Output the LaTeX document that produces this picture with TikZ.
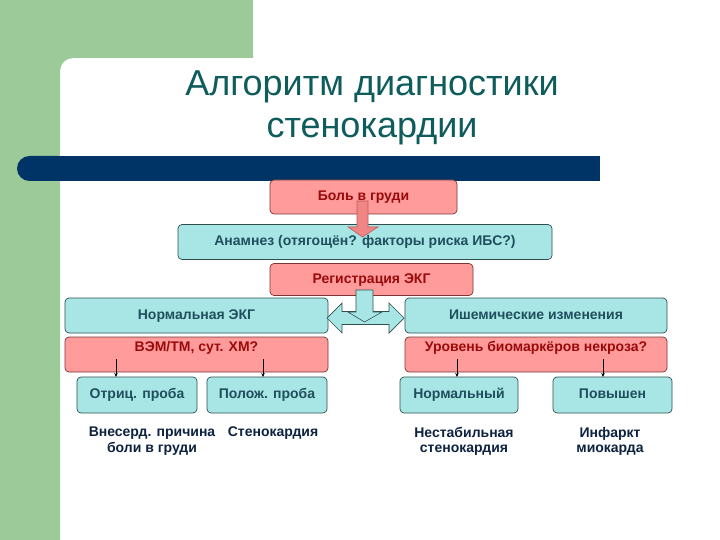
\documentclass[tikz,border=0pt]{standalone}
\usepackage{fontspec}
\setmainfont{Liberation Sans}
\usetikzlibrary{arrows.meta}
\begin{document}
\begin{tikzpicture}[x=1pt,y=-1pt,
  every node/.style={inner sep=0pt, outer sep=0pt},
  pinkbox/.style={draw=pinkline, fill=pinkfill, rounded corners=4pt, line width=0.7pt, font=\bfseries\fontsize{14}{16}\selectfont, text=pinktext, text height=10pt, text depth=3pt},
  cyanbox/.style={draw=cyanline, fill=cyanfill, rounded corners=4pt, line width=0.7pt, font=\bfseries\fontsize{14}{16}\selectfont, text=cyantext, text height=10pt, text depth=3pt},
  toptext/.style={text height=10pt, text depth=16pt},
  outtext/.style={font=\bfseries\fontsize{14}{15.5}\selectfont, text=outcol, align=center, anchor=north},
  smallarrow/.style={-{Stealth[length=4pt,width=3.5pt]}, line width=0.7pt, black}
]
\definecolor{greenbg}{HTML}{9CCA98}
\definecolor{navy}{HTML}{003366}
\definecolor{pinkfill}{HTML}{FF9B9B}
\definecolor{pinkline}{HTML}{7A3535}
\definecolor{pinktext}{HTML}{9A0A0A}
\definecolor{cyanfill}{HTML}{A8E6E6}
\definecolor{cyanline}{HTML}{2F4F4F}
\definecolor{cyantext}{HTML}{1F4F5C}
\definecolor{titlecol}{HTML}{0F5C5C}
\definecolor{outcol}{HTML}{0D2240}
\definecolor{arrpink}{HTML}{F08585}
\definecolor{arrpinkline}{HTML}{C05A5A}

\useasboundingbox (0,0) rectangle (720,540);
\fill[white] (0,0) rectangle (720,540);
% green background
\fill[greenbg] (0,0) -- (253,0) -- (253,58) [rounded corners=13pt] -- (60,58) [sharp corners] -- (60,540) -- (0,540) -- cycle;
% navy band
\fill[navy, rounded corners=12.5pt] (17,156) rectangle (70,181);
\fill[navy] (40,156) rectangle (600,181);

% title
\node[font=\fontsize{36}{42}\selectfont, text=titlecol, align=center, anchor=north] (title) at (372,70.5) {Алгоритм диагностики\\стенокардии};

% boxes
\node[pinkbox, minimum width=187pt, minimum height=34pt] (pain) at (363.5,197) {Боль в груди};
\node[cyanbox, minimum width=374pt, minimum height=35pt] (anam) at (365,242) {Анамнез (отягощён? факторы риска ИБС?)};
\node[pinkbox, minimum width=203pt, minimum height=32pt] (ecg) at (371.5,279.5) {Регистрация ЭКГ};
\node[cyanbox, minimum width=263pt, minimum height=35pt] (norm) at (196.5,315.5) {Нормальная ЭКГ};
\node[cyanbox, minimum width=262pt, minimum height=35pt] (isch) at (536,315.5) {Ишемические изменения};
\node[pinkbox, minimum width=263pt, minimum height=35pt, toptext] (vem) at (196.5,354.5) {ВЭМ/ТМ, сут. ХМ?};
\node[pinkbox, minimum width=262pt, minimum height=35pt, toptext] (bio) at (536,354.5) {Уровень биомаркёров некроза?};
\node[cyanbox, minimum width=120pt, minimum height=36pt] (neg) at (137,395) {Отриц. проба};
\node[cyanbox, minimum width=120pt, minimum height=36pt] (pos) at (267,395) {Полож. проба};
\node[cyanbox, minimum width=118pt, minimum height=36pt] (nrm) at (459,395) {Нормальный};
\node[cyanbox, minimum width=119pt, minimum height=36pt] (high) at (612.5,395) {Повышен};

% outcomes
\node[outtext] (o1) at (152,427) {Внесерд. причина\\боли в груди};
\node[outtext] (o2) at (273,427) {Стенокардия};
\node[outtext] (o3) at (464,427) {Нестабильная\\стенокардия};
\node[outtext] (o4) at (610,427) {Инфаркт\\миокарда};

% small arrows
\coordinate (s1) at (116,359);
\coordinate (s2) at (263,359);
\coordinate (s3) at (457,359);
\coordinate (s4) at (603,359);
\draw[smallarrow] (s1) -- (s1 |- neg.north);
\draw[smallarrow] (s2) -- (s2 |- pos.north);
\draw[smallarrow] (s3) -- (s3 |- nrm.north);
\draw[smallarrow] (s4) -- (s4 |- high.north);

% block arrow pain -> anamnez
\filldraw[fill=arrpink, draw=arrpinkline, line width=0.6pt]
  (357,201) -- (368,201) -- (368,227) -- (378,227) -- (362.5,237) -- (348,227) -- (357,227) -- cycle;

% double arrow between normal and ischemic
\filldraw[fill=cyanfill, draw=cyanline, line width=0.7pt]
  (327,318) -- (342,303) -- (342,311.5) -- (389,311.5) -- (389,303) -- (404,318)
  -- (389,333) -- (389,324.5) -- (342,324.5) -- (342,333) -- cycle;
% block arrow ecg -> down
\filldraw[fill=cyanfill, draw=cyanline, line width=0.6pt]
  (356,290) -- (373,290) -- (373,312) -- (382,312) -- (364.5,322) -- (348,312) -- (356,312) -- cycle;
\end{tikzpicture}
\end{document}
